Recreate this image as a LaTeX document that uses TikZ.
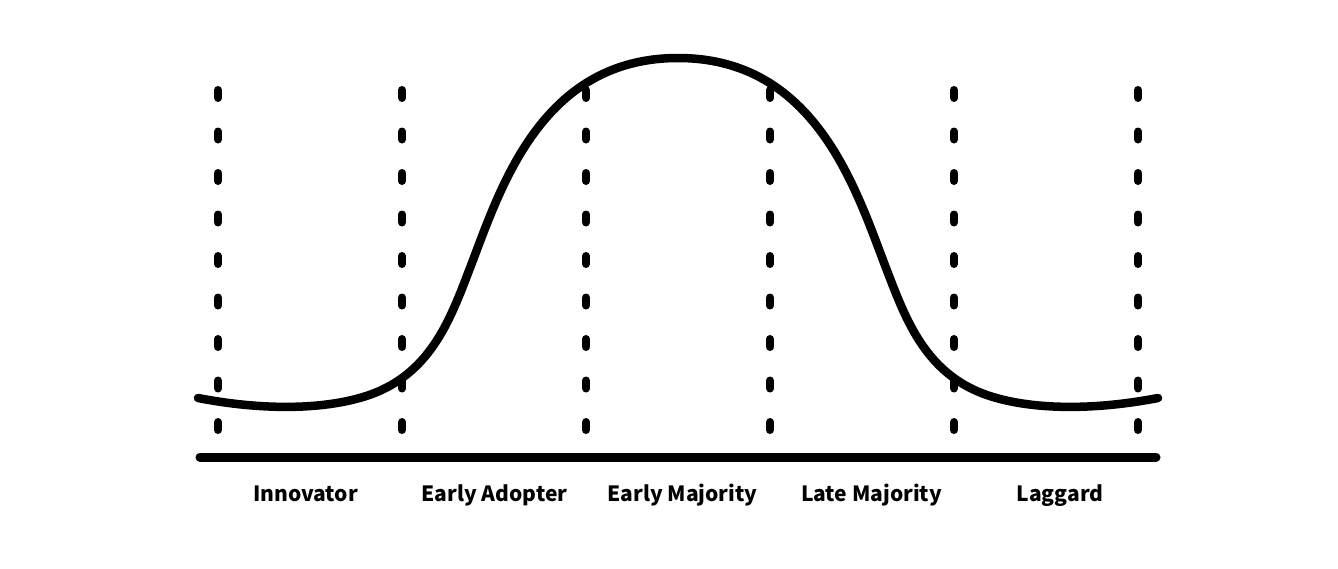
\documentclass[tikz,border=0pt]{standalone}
\usepackage{fontspec}
\newfontfamily\labfont{Noto Sans CJK JP}
\begin{document}
\begin{tikzpicture}[x=1pt,y=-1pt,
  divider/.style={line width=8pt,line cap=round,dash pattern=on 8pt off 33.5pt},
  axisline/.style={line width=9pt,line cap=round},
  bell/.style={line width=8.5pt,line cap=round,line join=round},
  lab/.style={font=\labfont\bfseries\fontsize{21}{24}\selectfont,inner sep=0pt,anchor=base}]
\useasboundingbox (0,0) rectangle (1338,568);
% dividers
\foreach \x [count=\i] in {218,402,586,770,954,1138}{
  \coordinate (t\i) at (\x,90);
  \coordinate (b\i) at (\x,430);
  \draw[divider] (t\i) -- (b\i);
}
% axis
\coordinate (al) at (200,457);
\coordinate (ar) at (1156,457);
\draw[axisline] (al) -- (ar);
% bell curve
\draw[bell] (198,398) .. controls (260,410) and (320,410) .. (363,397)
  .. controls (430,377) and (450,320) .. (470,268)
  .. controls (500,190) and (540,58) .. (678,58)
  .. controls (816,58) and (856,190) .. (886,268)
  .. controls (906,320) and (926,377) .. (993,397)
  .. controls (1036,410) and (1096,410) .. (1158,398);
% labels
\node[lab] (l1) at (305.5,501) {Innovator};
\node[lab] (l2) at (494.5,501) {Early Adopter};
\node[lab] (l3) at (682.5,501) {Early Majority};
\node[lab] (l4) at (871.5,501) {Late Majority};
\node[lab] (l5) at (1060,501) {Laggard};
\end{tikzpicture}
\end{document}
